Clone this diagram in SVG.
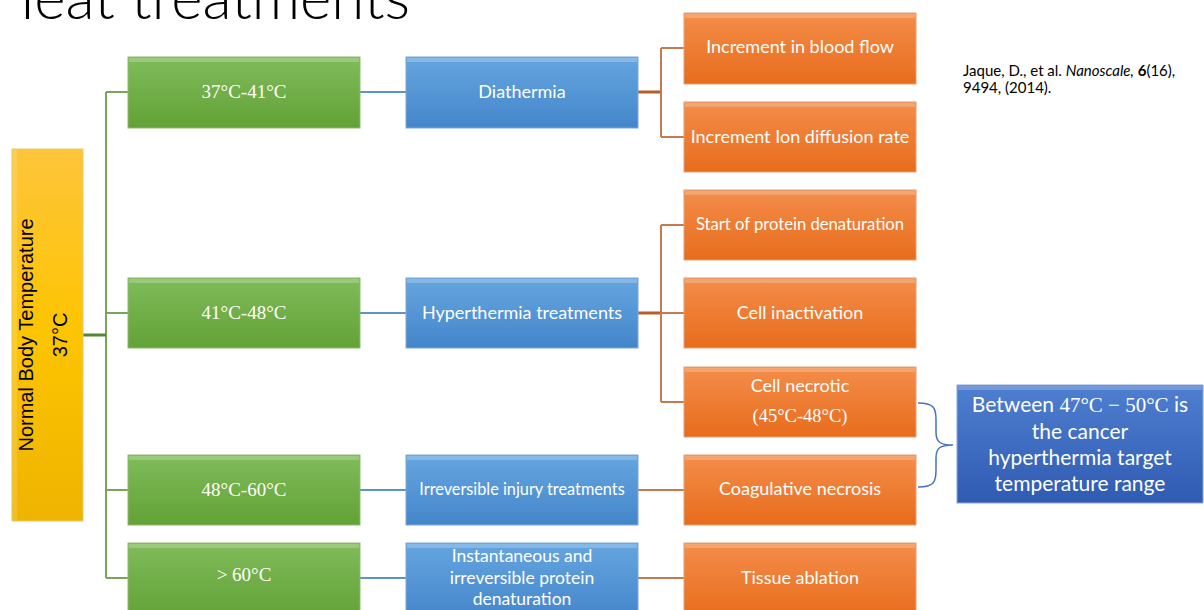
<svg xmlns="http://www.w3.org/2000/svg" width="1204" height="610" viewBox="0 0 1204 610">
<defs>
<linearGradient id="gGreen" x1="0" y1="0" x2="0" y2="1"><stop offset="0" stop-color="#80bb5a"/><stop offset="1" stop-color="#62a236"/></linearGradient>
<linearGradient id="gBlue" x1="0" y1="0" x2="0" y2="1"><stop offset="0" stop-color="#65a5df"/><stop offset="1" stop-color="#4486cb"/></linearGradient>
<linearGradient id="gOrange" x1="0" y1="0" x2="0" y2="1"><stop offset="0" stop-color="#f48d4a"/><stop offset="1" stop-color="#e86c1c"/></linearGradient>
<linearGradient id="gYellow" x1="0" y1="0" x2="0" y2="1"><stop offset="0" stop-color="#fec53a"/><stop offset="0.5" stop-color="#fdc400"/><stop offset="1" stop-color="#eeb400"/></linearGradient>
<linearGradient id="gCall" x1="0" y1="0" x2="0" y2="1"><stop offset="0" stop-color="#4f7fd0"/><stop offset="1" stop-color="#2f5bb2"/></linearGradient>
<style>
.green{fill:url(#gGreen);stroke:#8fb870;stroke-width:1}
.blue{fill:url(#gBlue);stroke:#7fa8d6;stroke-width:1}
.orange{fill:url(#gOrange);stroke:#e0a27a;stroke-width:1}
.yellow{fill:url(#gYellow);stroke:#e8c875;stroke-width:1}
.call{fill:url(#gCall);stroke:#8aa5d8;stroke-width:1}
.hl{fill:#ffffff;opacity:0.22}
.hlL{fill:#ffffff;opacity:0.15}
.sans{font-family:Lato,"Liberation Sans",sans-serif;fill:#ffffff;text-anchor:middle}
.serif{font-family:"Liberation Serif","DejaVu Serif",serif;fill:#ffffff;text-anchor:middle}
.cg{stroke:#7ca35e;stroke-width:2;fill:none}
.cb{stroke:#5b93cc;stroke-width:2;fill:none}
.co{stroke:#c57b4d;stroke-width:2;fill:none}
.coD{stroke:#b65f28;stroke-width:3;fill:none}
</style>
</defs>

<text x="410" y="19" font-family="Lato,'Open Sans',sans-serif" font-weight="300" font-size="60" fill="#000000" text-anchor="end">Heat treatments</text>

<g id="connectors">
<path class="cg" d="M106 92 V578"/>
<path d="M83 335 H106" stroke="#4f8a2f" stroke-width="3" fill="none"/>
<path class="cg" d="M106 92 H128 M106 313 H128 M106 490 H128 M106 578 H128"/>
<path class="cb" d="M360 92 H406 M360 313 H406 M360 490 H406 M360 578 H406"/>
<path class="coD" d="M638 92 H661 M638 313 H661"/>
<path class="co" d="M661 48 V137 M661 48 H684 M661 137 H684"/>
<path class="co" d="M661 225 V402 M661 225 H684 M661 313 H684 M661 402 H684"/>
<path class="co" d="M638 490 H684 M638 578 H684"/>
<path d="M918 403 C934 403 936 408 936 420 V432 C936 442 940 445 953 445 C940 445 936 448 936 458 V470 C936 482 934 487 918 487" stroke="#4472c4" stroke-width="1.5" fill="none"/>
</g>

<g id="node-normal">
<rect class="yellow" x="12" y="149" width="71" height="372"/>
<rect class="hlL" x="13" y="150" width="4" height="370"/>
<text font-family="'Liberation Sans',Arial,sans-serif" font-size="20" fill="#000000" text-anchor="middle" transform="translate(33 335) rotate(-90)">Normal Body Temperature</text>
<text font-family="'Liberation Sans',Arial,sans-serif" font-size="20" fill="#000000" text-anchor="middle" transform="translate(67 335) rotate(-90)">37°C</text>
</g>

<g id="node-g1"><rect class="green" x="128" y="57" width="232" height="71"/><rect class="hl" x="129" y="58" width="230" height="4"/><text class="serif" x="244" y="98" font-size="19">37°C-41°C</text></g>
<g id="node-g2"><rect class="green" x="128" y="278" width="232" height="70"/><rect class="hl" x="129" y="279" width="230" height="4"/><text class="serif" x="244" y="319" font-size="19">41°C-48°C</text></g>
<g id="node-g3"><rect class="green" x="128" y="455" width="232" height="70"/><rect class="hl" x="129" y="456" width="230" height="4"/><text class="serif" x="244" y="496" font-size="19">48°C-60°C</text></g>
<g id="node-g4"><rect class="green" x="128" y="543" width="232" height="75"/><rect class="hl" x="129" y="544" width="230" height="4"/><text class="serif" x="244" y="581" font-size="19">&gt; 60°C</text></g>

<g id="node-b1"><rect class="blue" x="406" y="57" width="232" height="71"/><rect class="hl" x="407" y="58" width="230" height="4"/><text class="sans" x="522" y="98" font-size="18">Diathermia</text></g>
<g id="node-b2"><rect class="blue" x="406" y="278" width="232" height="70"/><rect class="hl" x="407" y="279" width="230" height="4"/><text class="sans" x="522" y="319" font-size="18">Hyperthermia treatments</text></g>
<g id="node-b3"><rect class="blue" x="406" y="455" width="232" height="70"/><rect class="hl" x="407" y="456" width="230" height="4"/><text class="sans" x="522" y="495" font-size="16.3">Irreversible injury treatments</text></g>
<g id="node-b4"><rect class="blue" x="406" y="543" width="232" height="75"/><rect class="hl" x="407" y="544" width="230" height="4"/>
<text class="sans" x="522" y="562" font-size="17.5">Instantaneous and</text>
<text class="sans" x="522" y="584" font-size="17.5">irreversible protein</text>
<text class="sans" x="522" y="605" font-size="17.5">denaturation</text></g>

<g id="node-o1"><rect class="orange" x="684" y="13" width="232" height="71"/><rect class="hl" x="685" y="14" width="230" height="4"/><text class="sans" x="800" y="53" font-size="18">Increment in blood flow</text></g>
<g id="node-o2"><rect class="orange" x="684" y="102" width="232" height="70"/><rect class="hl" x="685" y="103" width="230" height="4"/><text class="sans" x="800" y="143" font-size="18">Increment Ion diffusion rate</text></g>
<g id="node-o3"><rect class="orange" x="684" y="190" width="232" height="70"/><rect class="hl" x="685" y="191" width="230" height="4"/><text class="sans" x="800" y="230" font-size="16.6">Start of protein denaturation</text></g>
<g id="node-o4"><rect class="orange" x="684" y="278" width="232" height="70"/><rect class="hl" x="685" y="279" width="230" height="4"/><text class="sans" x="800" y="319" font-size="18">Cell inactivation</text></g>
<g id="node-o5"><rect class="orange" x="684" y="367" width="232" height="70"/><rect class="hl" x="685" y="368" width="230" height="4"/><text class="sans" x="800" y="392" font-size="18">Cell necrotic</text><text class="serif" x="800" y="422" font-size="18.5">(45°C-48°C)</text></g>
<g id="node-o6"><rect class="orange" x="684" y="455" width="232" height="70"/><rect class="hl" x="685" y="456" width="230" height="4"/><text class="sans" x="800" y="495" font-size="18">Coagulative necrosis</text></g>
<g id="node-o7"><rect class="orange" x="684" y="543" width="232" height="75"/><rect class="hl" x="685" y="544" width="230" height="4"/><text class="sans" x="800" y="584" font-size="18">Tissue ablation</text></g>

<g id="node-callout"><rect class="call" x="957" y="385" width="246" height="118"/><rect class="hl" x="958" y="386" width="244" height="4"/>
<text x="1080" y="412" font-size="21" fill="#ffffff" text-anchor="middle" font-family="Lato,'Liberation Sans',sans-serif">Between <tspan font-family="'Liberation Serif',serif">47°C − 50°C</tspan> is</text>
<text class="sans" x="1080" y="439" font-size="21">the cancer</text>
<text class="sans" x="1080" y="465" font-size="21">hyperthermia target</text>
<text class="sans" x="1080" y="491" font-size="21">temperature range</text>
</g>

<g id="citation" font-family="Lato,'Liberation Sans',sans-serif" font-size="15" fill="#000000">
<text x="963" y="76">Jaque, D., et al. <tspan font-style="italic">Nanoscale,</tspan> <tspan font-weight="bold">6</tspan>(16),</text>
<text x="963" y="93">9494, (2014).</text>
</g>
</svg>
